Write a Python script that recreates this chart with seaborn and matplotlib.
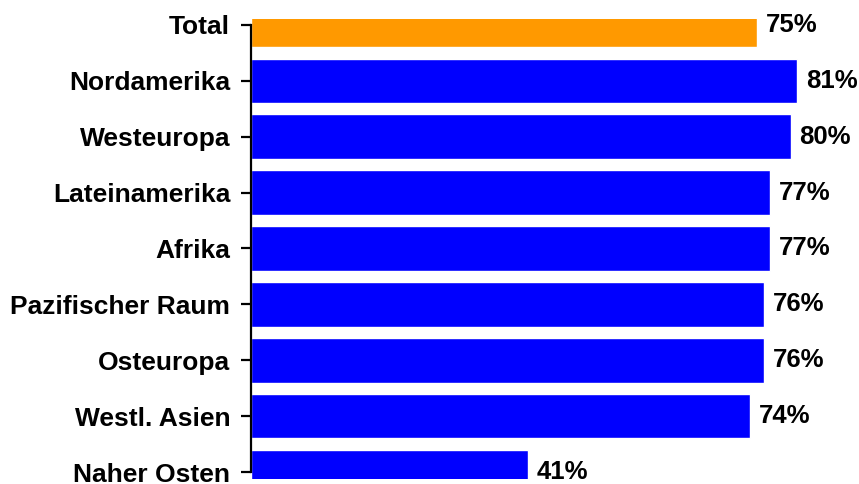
import pandas as pd
import matplotlib.pyplot as plt
import seaborn as sns

# Data
regions = ["Total", "Nordamerika", "Westeuropa", "Lateinamerika", "Afrika",
           "Pazifischer Raum", "Osteuropa", "Westl. Asien", "Naher Osten"]
values = [75, 81, 80, 77, 77, 76, 76, 74, 41]
colors = ["#FF9900"] + ["#0000FF"] * 8

df = pd.DataFrame({"region": regions, "value": values})

sns.set_style("white")
plt.rcParams["font.family"] = ["Liberation Sans", "DejaVu Sans"]
plt.rcParams["text.color"] = "black"
plt.rcParams["ytick.color"] = "black"

fig = plt.figure(figsize=(8.59, 4.84), dpi=100)
ax = fig.add_axes([251 / 859, 5 / 484, 607 / 859, 460 / 484])

sns.barplot(data=df, x="value", y="region", hue="region", palette=colors,
            orient="h", width=0.8, legend=False, saturation=1, ax=ax)

ax.set_xlim(0, 90)
ax.set_ylim(8.125, -0.107)

# value labels at the end of each bar
for i, v in enumerate(values):
    ax.annotate(f"{v}%", xy=(v, i), xytext=(6.5, 0), textcoords="offset points",
                va="center", ha="left", fontsize=18.5, fontweight="bold",
                color="black", annotation_clip=False)

ax.set_xlabel("")
ax.set_ylabel("")
ax.set_xticks([])
for s in ["top", "right", "bottom"]:
    ax.spines[s].set_visible(False)
ax.spines["left"].set_linewidth(1.6)
ax.spines["left"].set_color("black")
ax.spines["left"].set_bounds(0, 8)
ax.tick_params(axis="y", length=7, width=1.6, pad=8, labelsize=19, left=True,
               labelcolor="black")
for lbl in ax.get_yticklabels():
    lbl.set_fontweight("bold")

fig.savefig("out.png", dpi=100)
